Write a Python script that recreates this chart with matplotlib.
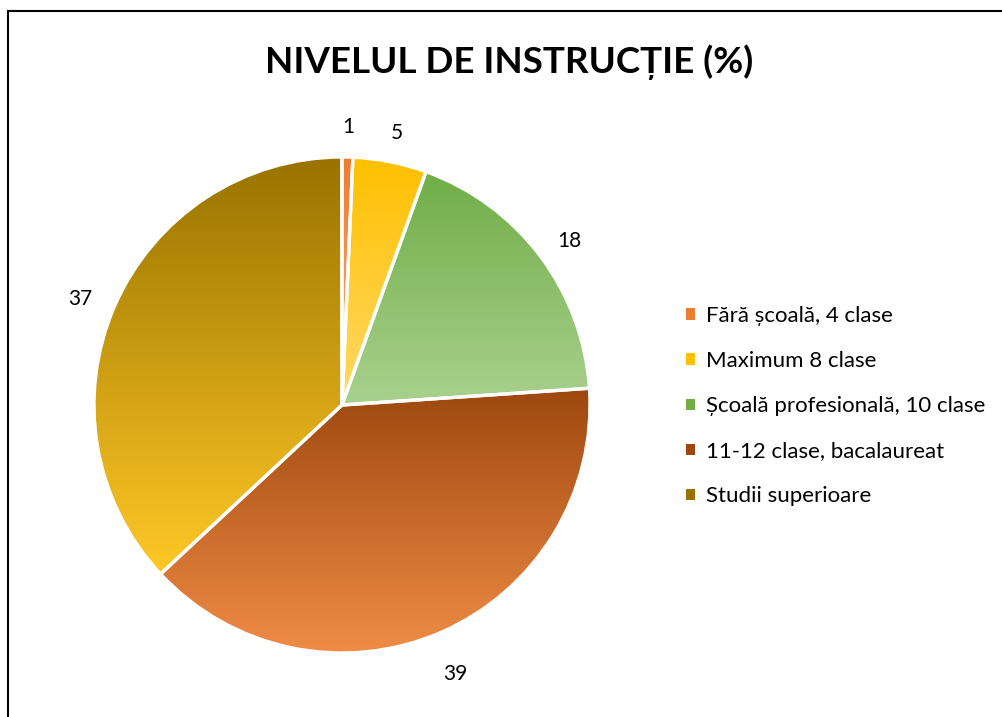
import numpy as np
import matplotlib.pyplot as plt
from matplotlib.colors import LinearSegmentedColormap
from matplotlib.patches import Rectangle

# Data
categories = ["Fără școală, 4 clase", "Maximum 8 clase", "Școală profesională, 10 clase",
              "11-12 clase, bacalaureat", "Studii superioare"]
values = [0.7, 4.8, 18.4, 39.1, 36.9]
top_colors = ["#ED7D31", "#FFC000", "#70AD47", "#9E480E", "#997300"]
bottom_colors = ["#F4B183", "#FFD966", "#A9D18E", "#F08C46", "#FFC826"]

plt.rcParams['font.family'] = ['Lato', 'DejaVu Sans']

fig = plt.figure(figsize=(10.03, 7.17), dpi=100)
W, H = 1003, 717
cx, cy, r = 342, 405, 248
ax = fig.add_axes([(cx - r) / W, (H - cy - r) / H, 2 * r / W, 2 * r / H])

wedges, _ = ax.pie(values, startangle=90, counterclock=False, radius=1,
                   wedgeprops=dict(facecolor="none", edgecolor="white", linewidth=2.4))

grad = np.linspace(0, 1, 256).reshape(-1, 1)
for i, w in enumerate(wedges):
    w.set_zorder(3)
    bb = w.get_path().get_extents()
    cmap = LinearSegmentedColormap.from_list("g", [top_colors[i], bottom_colors[i]])
    im = ax.imshow(grad, cmap=cmap, aspect="auto", origin="upper",
                   extent=[bb.x0, bb.x1, bb.y0, bb.y1], zorder=2)
    im.set_clip_path(w)
    # data label outside the slice
    mid = np.deg2rad((w.theta1 + w.theta2) / 2)
    ax.text(1.15 * np.cos(mid), 1.15 * np.sin(mid) - 0.03, "%.0f" % values[i],
            ha="center", va="center", fontsize=15, color="black")

ax.set_xlim(-1, 1)
ax.set_ylim(-1, 1)
ax.set_aspect("auto")
ax.axis("off")

fig.text(509 / W, 1 - 62 / H, "NIVELUL DE INSTRUCȚIE (%)", ha="center", va="center",
         fontsize=26.5, fontweight="bold", color="black")

handles = [Rectangle((0, 0), 1, 1, facecolor=c) for c in top_colors]
fig.legend(handles, categories, loc="upper left", bbox_to_anchor=(686 / W, 1 - 306 / H),
           frameon=False, fontsize=16, handlelength=0.42, handleheight=0.42,
           handletextpad=0.5, labelspacing=1.13, borderaxespad=0, borderpad=0,
           labelcolor="black")

# chart border (only left and top edges are visible)
fig.patches.append(Rectangle((8 / W, -0.1), 1.2, 1.1 - 10.5 / H, transform=fig.transFigure,
                             fill=False, edgecolor="black", linewidth=1.5))

fig.savefig("out.png", dpi=100)
